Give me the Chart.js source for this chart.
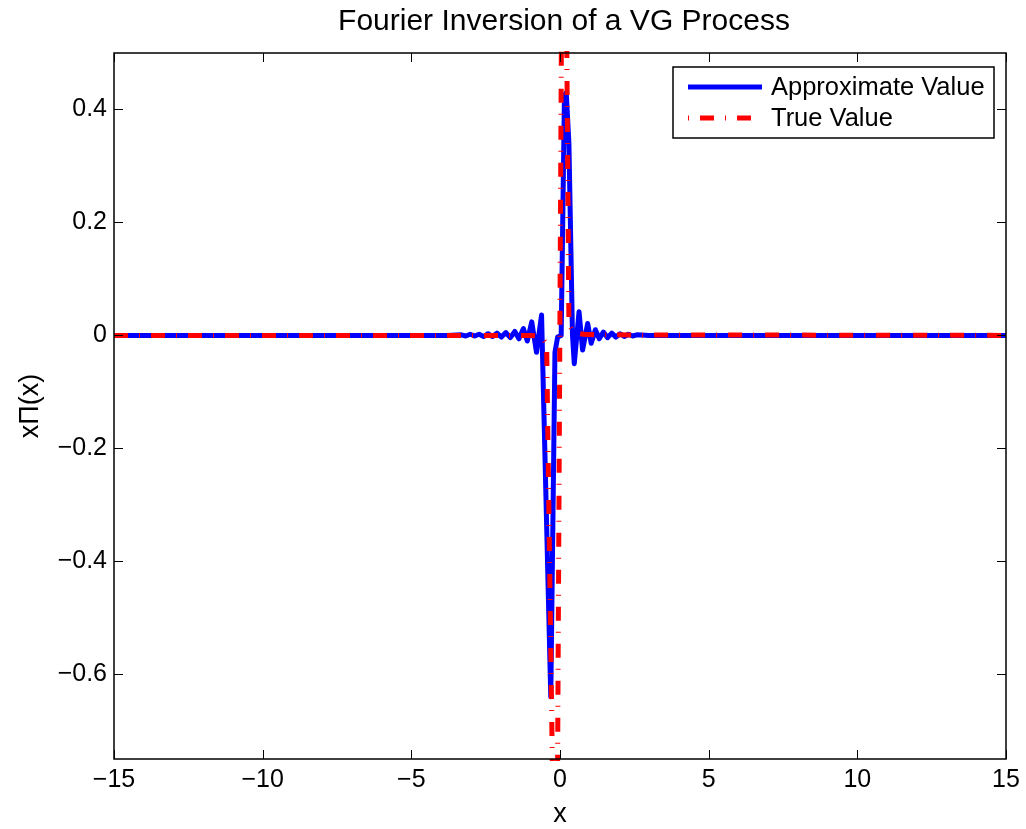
<!DOCTYPE html>
<html>
<head>
<meta charset="utf-8">
<script src="https://cdn.jsdelivr.net/npm/chart.js@4.4.0/dist/chart.umd.min.js"></script>
<style>
  html, body { margin: 0; padding: 0; background: #fff; }
  #wrap { width: 1026px; height: 829px; }
</style>
</head>
<body>
<div id="wrap"><canvas id="chart" width="1026" height="829"></canvas></div>
<script>
// Tick labels
const xTicks = [-15, -10, -5, 0, 5, 10, 15];
const yTicks = [-0.6, -0.4, -0.2, 0, 0.2, 0.4];

// Approximate value (Fourier inversion)
const approxX = [-15, -3.8, -3.32, -3.17, -3.02, -2.87, -2.72, -2.57, -2.42, -2.27, -2.12, -1.97,
  -1.82, -1.67, -1.52, -1.38, -1.23, -1.10, -0.95, -0.79, -0.62, -0.31, -0.17, -0.08, 0.04,
  0.15, 0.21, 0.30, 0.42, 0.48, 0.64, 0.76, 0.93, 1.05, 1.19, 1.32, 1.46, 1.60, 1.74, 1.88,
  2.02, 2.16, 2.30, 2.44, 2.58, 3.0, 15];
const approxY = [0, 0, 0.001, -0.001, 0.002, -0.001, 0.002, -0.002, 0.003, -0.002, 0.004, -0.003,
  0.005, -0.004, 0.007, -0.006, 0.012, -0.010, 0.024, -0.030, 0.036, -0.64, -0.03, -0.003, 0.0,
  0.425, 0.43, 0.34, 0.0, -0.05, 0.042, -0.026, 0.021, -0.014, 0.010, -0.006, 0.006, -0.004, 0.004, -0.003,
  0.003, -0.002, 0.002, -0.001, 0.001, 0, 0];

// True value
const trueX = [-15, -1.0, -0.8, -0.6, -0.45, -0.13, 0.12, 0.3, 0.4, 0.55, 0.8, 1.2, 15];
const trueY = [0, 0, -0.001, -0.005, -0.015, -1.25, 1.25, 0.02, 0.01, 0.004, 0.002, 0.001, 0];

const TITLE = 'Fourier Inversion of a VG Process';
const FONT = "'Liberation Sans', Arial, Helvetica, sans-serif";
const BLUE = 'rgb(0, 0, 255)';
const RED = 'rgb(255, 0, 0)';
const RED_DASH = [14, 11, 1, 11];
const TICK_LEN = 9;

const toPoints = (xs, ys) => xs.map((x, i) => ({ x: x, y: ys[i] }));
const fmt = v => String(v).replace('-', '\u2212');

// Title over the plot box, box round the axes, inward ticks, legend inside the plot
const axesBox = {
    id: 'axesBox',
    afterDatasetsDraw(chart) {
        const { ctx, chartArea: a, scales } = chart;
        ctx.save();
        ctx.strokeStyle = '#000';
        ctx.lineWidth = 1;
        ctx.beginPath();
        xTicks.forEach(v => {
            const px = Math.round(scales.x.getPixelForValue(v)) + 0.5;
            ctx.moveTo(px, a.bottom); ctx.lineTo(px, a.bottom - TICK_LEN);
            ctx.moveTo(px, a.top); ctx.lineTo(px, a.top + TICK_LEN);
        });
        yTicks.forEach(v => {
            const py = Math.round(scales.y.getPixelForValue(v)) + 0.5;
            ctx.moveTo(a.left, py); ctx.lineTo(a.left + TICK_LEN, py);
            ctx.moveTo(a.right, py); ctx.lineTo(a.right - TICK_LEN, py);
        });
        ctx.stroke();
        ctx.lineWidth = 1.5;
        ctx.strokeRect(a.left, a.top, a.right - a.left, a.bottom - a.top);

        // title
        ctx.fillStyle = '#000';
        ctx.font = '30px ' + FONT;
        ctx.textAlign = 'center';
        ctx.textBaseline = 'middle';
        ctx.fillText(TITLE, (a.left + a.right) / 2 + 4, 22);
        ctx.restore();
    },
    afterDraw(chart) {
        const { ctx, chartArea: a } = chart;
        const left = a.right - 333, top = a.top + 14, w = 321, h = 71;
        ctx.save();
        ctx.fillStyle = '#fff';
        ctx.fillRect(left, top, w, h);
        ctx.strokeStyle = '#000';
        ctx.lineWidth = 1.5;
        ctx.strokeRect(left, top, w, h);

        const items = chart.data.datasets;
        items.forEach((ds, i) => {
            const y = top + 20 + i * 31;
            ctx.beginPath();
            ctx.strokeStyle = ds.borderColor;
            ctx.lineWidth = ds.borderWidth;
            ctx.lineCap = 'butt';
            ctx.setLineDash(ds.borderDash || []);
            ctx.lineDashOffset = ds.borderDash ? 25 : 0;
            ctx.moveTo(left + 15, y);
            ctx.lineTo(left + 89, y);
            ctx.stroke();
            ctx.setLineDash([]);
            ctx.fillStyle = '#000';
            ctx.font = '25.5px ' + FONT;
            ctx.textBaseline = 'middle';
            ctx.textAlign = 'left';
            ctx.fillText(ds.label, left + 98, y + 1);
        });
        ctx.restore();
    }
};

const ctx = document.getElementById('chart').getContext('2d');
new Chart(ctx, {
    type: 'line',
    data: {
        datasets: [{
            label: 'Approximate Value',
            data: toPoints(approxX, approxY),
            borderColor: BLUE,
            borderWidth: 5,
            borderJoinStyle: 'round',
            pointRadius: 0,
            tension: 0,
            order: 1
        }, {
            label: 'True Value',
            data: toPoints(trueX, trueY),
            borderColor: RED,
            borderWidth: 5,
            borderDash: RED_DASH,
            borderCapStyle: 'butt',
            pointRadius: 0,
            tension: 0,
            clip: 2,
            order: 0
        }]
    },
    options: {
        responsive: false,
        animation: false,
        events: [],
        layout: { padding: { left: 0, right: 20, top: 53, bottom: 0 } },
        plugins: {
            legend: { display: false },
            tooltip: { enabled: false },
            title: { display: false }
        },
        scales: {
            x: {
                type: 'linear',
                min: -15,
                max: 15,
                afterBuildTicks: s => { s.ticks = xTicks.map(v => ({ value: v })); },
                afterFit: s => { s.height = 70; },
                grid: { display: false, drawTicks: false },
                border: { display: false },
                ticks: {
                    color: '#000',
                    padding: 6,
                    maxRotation: 0,
                    font: { family: FONT, size: 25 },
                    callback: v => fmt(v)
                },
                title: {
                    display: true,
                    text: 'x',
                    color: '#000',
                    font: { family: FONT, size: 27 },
                    padding: { top: 0, bottom: -2 }
                }
            },
            y: {
                min: -0.75,
                max: 0.5,
                afterBuildTicks: s => { s.ticks = yTicks.map(v => ({ value: v })); },
                afterFit: s => { s.width = 114; },
                grid: { display: false, drawTicks: false },
                border: { display: false },
                ticks: {
                    color: '#000',
                    padding: 7,
                    font: { family: FONT, size: 25 },
                    callback: v => fmt(v)
                },
                title: {
                    display: true,
                    text: 'x\u03A0(x)',
                    color: '#000',
                    font: { family: FONT, size: 27 },
                    padding: { top: 14, bottom: 0 }
                }
            }
        }
    },
    plugins: [axesBox]
});
</script>
</body>
</html>
